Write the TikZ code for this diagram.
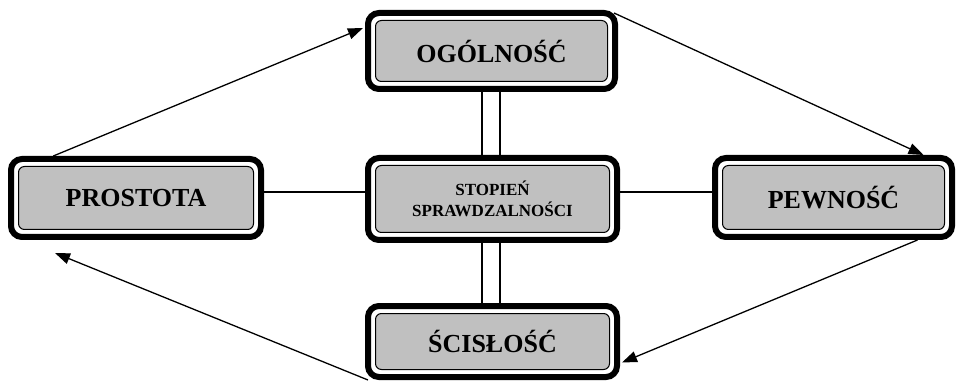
\documentclass[tikz,border=0pt]{standalone}
\usepackage{fontspec}
\setmainfont{Liberation Serif}
\usetikzlibrary{arrows.meta,calc}
\definecolor{boxgray}{HTML}{C0C0C0}
\tikzset{
  outerbox/.style={rectangle, draw=black, line width=6pt, fill=white, rounded corners=11pt, inner sep=0pt},
  innerbox/.style={rectangle, draw=black, line width=1pt, fill=boxgray, rounded corners=6pt, inner sep=0pt, align=center, font=\bfseries\fontsize{26}{29}\selectfont},
  smalltext/.style={font=\bfseries\fontsize{17}{21}\selectfont},
  link/.style={line width=1.2pt},
  arr/.style={line width=1.3pt, -{Triangle[length=15pt,width=11pt]}},
}
\newcommand{\gbox}[7][]{%
  \node[outerbox, minimum width=#5pt, minimum height=#6pt] (#2) at (#3,#4) {};
  \node[innerbox, minimum width={#5pt-15pt}, minimum height={#6pt-15pt}, #1] (#2-in) at (#2) {#7};}
\begin{document}
\begin{tikzpicture}[x=1pt,y=-1pt]
\useasboundingbox (0,0) rectangle (959,382);
\gbox{o}{491.5}{51}{247}{76}{OGÓLNOŚĆ}
\gbox{pr}{136}{198}{250}{78}{PROSTOTA}
\gbox[smalltext]{c}{492.5}{199}{249}{82}{STOPIEŃ\\SPRAWDZALNOŚCI}
\gbox{pe}{833.5}{197.5}{237}{79}{PEWNOŚĆ}
\gbox{s}{492.5}{341.5}{249}{71}{ŚCISŁOŚĆ}
% horizontal links
\draw[link] ([yshift=6pt]pr.east) -- ([yshift=7pt]c.west);
\draw[link] ([yshift=7pt]c.east) -- ([yshift=5.5pt]pe.west);
% double vertical links
\draw[link] ([xshift=-9.5pt]o.south) -- ([xshift=-10.5pt]c.north);
\draw[link] ([xshift=8.5pt]o.south) -- ([xshift=7.5pt]c.north);
\draw[link] ([xshift=-10.5pt]c.south) -- ([xshift=-10.5pt]s.north);
\draw[link] ([xshift=7.5pt]c.south) -- ([xshift=7.5pt]s.north);
% arrows
\draw[arr] ($(pr.north west)!0.177!(pr.north east)$) -- ([xshift=-2pt,yshift=23pt]o.west);
\draw[arr] ([xshift=-4pt,yshift=-3pt]o.north east) -- ([xshift=90pt]pe.north);
\draw[arr] ([xshift=84pt]pe.south) -- ([xshift=2pt,yshift=-21pt]s.east);
\draw[arr] ([xshift=3pt]s.south west) -- ([xshift=-81pt,yshift=-13pt]pr.south);
\end{tikzpicture}
\end{document}
